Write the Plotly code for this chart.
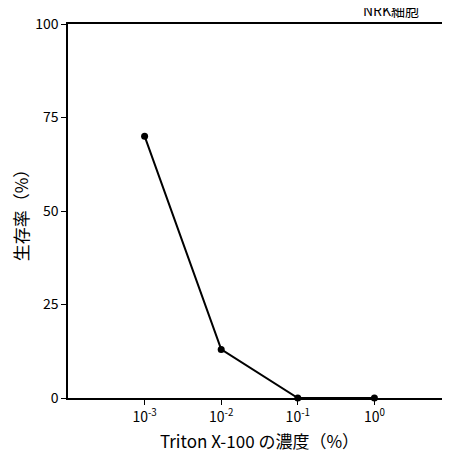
import plotly.graph_objects as go

conc = [1e-3, 1e-2, 1e-1, 1]
survival = [70, 13, 0, 0]
xtick_vals = [1e-3, 1e-2, 1e-1, 1]
xtick_text = ["10<sup>-3</sup>", "10<sup>-2</sup>", "10<sup>-1</sup>", "10<sup>0</sup>"]
ytick_vals = [0, 25, 50, 75, 100]

font = "Noto Sans CJK JP, Noto Sans, Arial"

fig = go.Figure(go.Scatter(
    x=conc, y=survival, mode="lines+markers",
    line=dict(color="black", width=2),
    marker=dict(color="black", size=7),
    cliponaxis=False,
))

fig.update_layout(
    width=450, height=462,
    margin=dict(l=60, r=5, t=16, b=72),
    plot_bgcolor="white", paper_bgcolor="white",
    font=dict(family=font, size=14, color="black"),
    showlegend=False,
    annotations=[dict(text="NRK細胞", x=1, xref="paper", xanchor="right",
                      xshift=-30, y=1, yref="paper", yanchor="bottom", yshift=2,
                      showarrow=False, font=dict(size=14))],
)
fig.update_xaxes(
    type="log", range=[-4, 1], tickvals=xtick_vals, ticktext=xtick_text,
    showgrid=False, showline=True, linecolor="black", linewidth=1.5, mirror=True,
    ticks="outside", ticklen=5, tickcolor="black",
    title=dict(text="Triton X-100 の濃度（%）", standoff=12),
)
fig.update_yaxes(
    range=[0, 100], tickvals=ytick_vals,
    showgrid=False, zeroline=False, showline=True, linecolor="black", linewidth=1.5, mirror=True,
    ticks="outside", ticklen=5, tickcolor="black",
    title=dict(text="生存率（%）", standoff=8),
)

fig.write_html("out.html")
